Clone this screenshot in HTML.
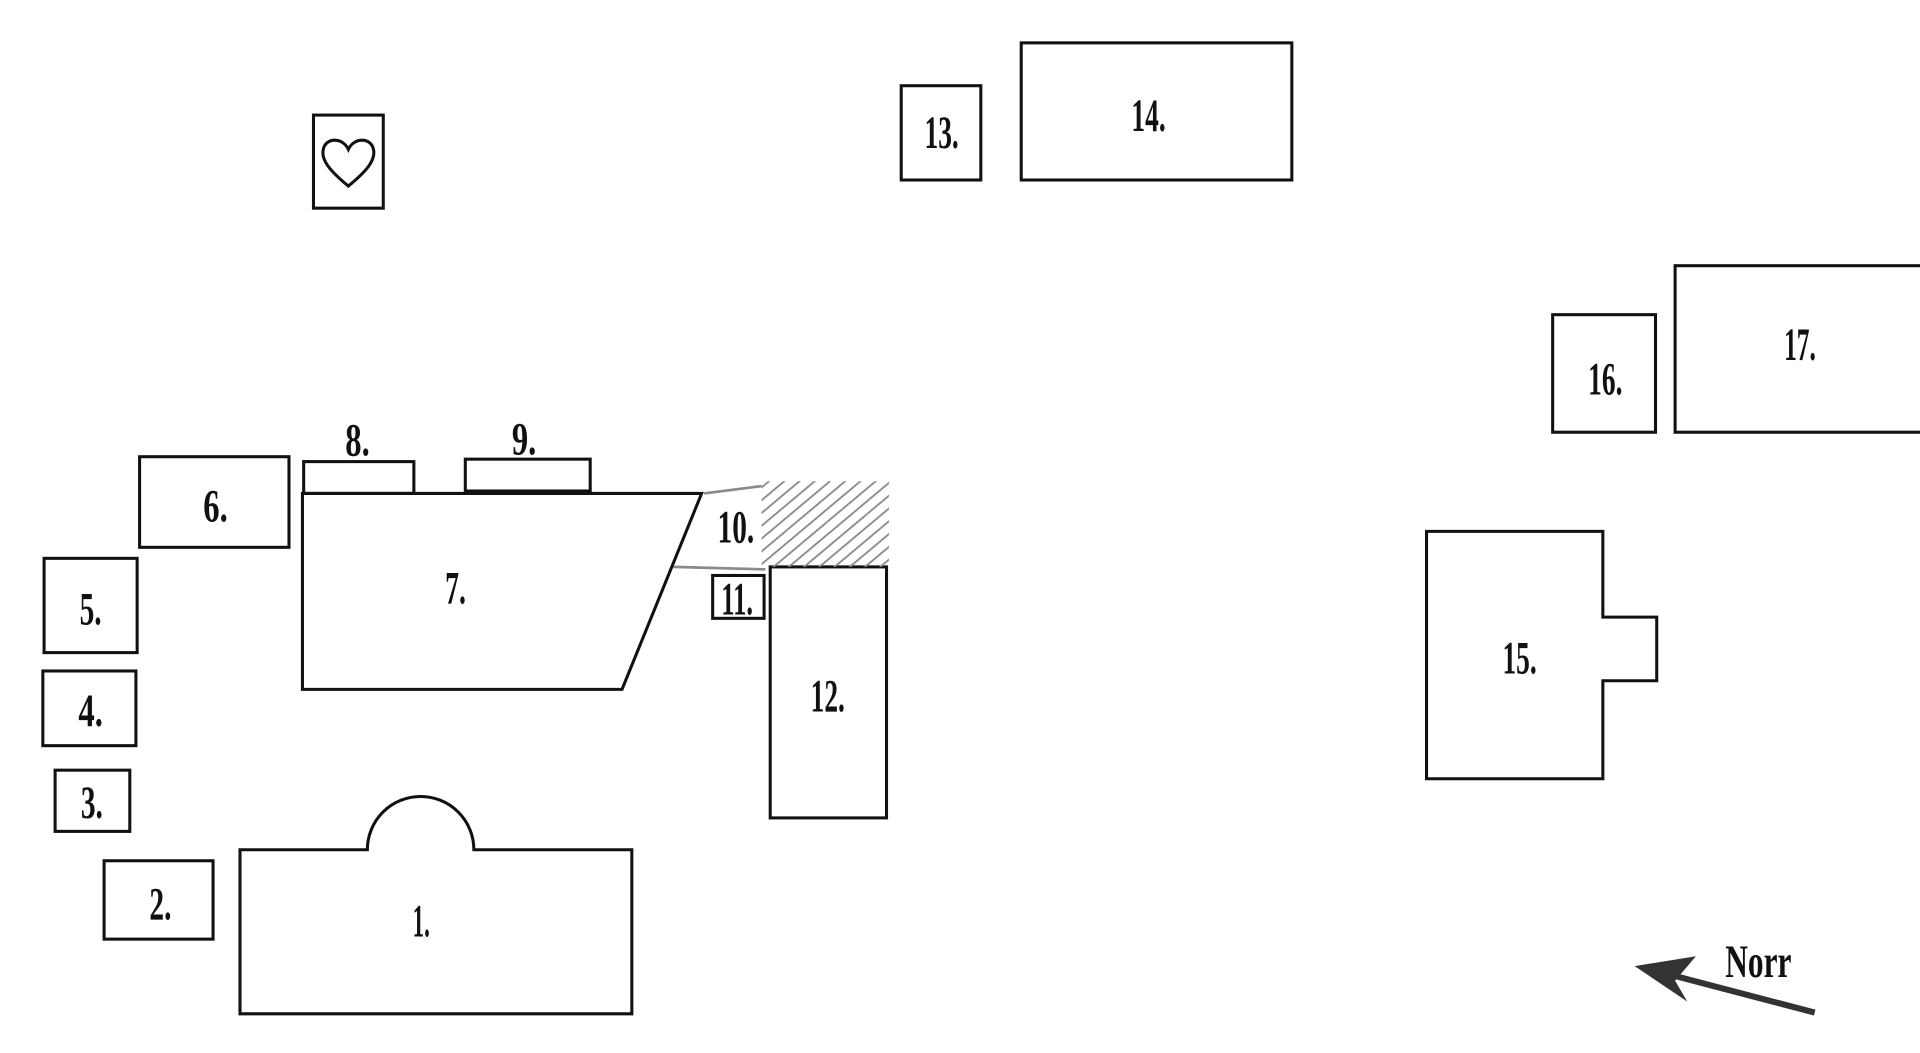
<!DOCTYPE html>
<html><head><meta charset="utf-8"><style>
html,body{margin:0;padding:0;background:#fff;}
svg{display:block;}
text{font-family:"Liberation Serif",serif;font-size:38px;font-weight:bold;text-anchor:middle;fill:#111;}
</style></head><body>
<svg width="1920" height="1053" viewBox="0 0 1568 860" preserveAspectRatio="none" xmlns="http://www.w3.org/2000/svg">
<defs>
<pattern id="h" width="8" height="8" patternUnits="userSpaceOnUse" patternTransform="rotate(50)">
<line x1="0" y1="0" x2="0" y2="8" stroke="#8a8a8a" stroke-width="3"/>
</pattern>
</defs>
<g fill="none" stroke="#111" stroke-width="2.5">
<rect x="256" y="94" width="57" height="76"/>
<path d="M284.5 152 C270 140 262 131 264 122 C266 112 280 112 284.5 122 C289 112 303 112 305 122 C307 131 299 140 284.5 152 Z"/>
<rect x="736" y="70" width="65" height="77"/>
<rect x="834" y="35" width="221" height="112"/>
<rect x="1268" y="257" width="84" height="96"/>
<rect x="1368" y="217" width="210" height="136"/>
<rect x="114" y="373" width="122" height="74"/>
<rect x="248" y="377" width="90" height="26"/>
<rect x="380" y="375" width="102" height="26"/>
<polygon points="247,403 573,403 508,563 247,563"/>
<rect x="582" y="470" width="42" height="35"/>
<rect x="629" y="463" width="95" height="205"/>
<rect x="36" y="456" width="76" height="77"/>
<rect x="35" y="548" width="76" height="61"/>
<rect x="45" y="629" width="61" height="50"/>
<rect x="85" y="703" width="89" height="64"/>
<path d="M196 694 H300 A43.5 43.5 0 0 1 387 694 H516 V828 H196 Z"/>
<path d="M1309 504 V434 H1165 V636 H1309 V556 H1353 V504 Z"/>
</g>
<g stroke="#8a8a8a" stroke-width="2.2" fill="none">
<line x1="575" y1="403" x2="622" y2="397"/>
<line x1="550" y1="463" x2="625" y2="465"/>
</g>
<rect x="622" y="393" width="104" height="70" fill="url(#h)"/>
<line x1="1482" y1="827" x2="1360" y2="795" stroke="#333" stroke-width="5"/>
<polygon points="1335,789 1385,781 1368,801 1378,818" fill="#333"/>
<g>
<text x="176" y="426" textLength="20" lengthAdjust="spacingAndGlyphs">6.</text>
<text x="292" y="372" textLength="20" lengthAdjust="spacingAndGlyphs">8.</text>
<text x="428" y="371" textLength="20" lengthAdjust="spacingAndGlyphs">9.</text>
<text x="372" y="493" textLength="17" lengthAdjust="spacingAndGlyphs">7.</text>
<text x="601" y="443" textLength="30" lengthAdjust="spacingAndGlyphs">10.</text>
<text x="602" y="502" textLength="26" lengthAdjust="spacingAndGlyphs">11.</text>
<text x="676" y="581" textLength="28" lengthAdjust="spacingAndGlyphs">12.</text>
<text x="74" y="510" textLength="18" lengthAdjust="spacingAndGlyphs">5.</text>
<text x="74" y="593" textLength="20" lengthAdjust="spacingAndGlyphs">4.</text>
<text x="75" y="668" textLength="18" lengthAdjust="spacingAndGlyphs">3.</text>
<text x="131" y="751" textLength="18" lengthAdjust="spacingAndGlyphs">2.</text>
<text x="344" y="765" textLength="14" lengthAdjust="spacingAndGlyphs">1.</text>
<text x="769" y="121" textLength="28" lengthAdjust="spacingAndGlyphs">13.</text>
<text x="938" y="107" textLength="28" lengthAdjust="spacingAndGlyphs">14.</text>
<text x="1311" y="322" textLength="28" lengthAdjust="spacingAndGlyphs">16.</text>
<text x="1470" y="294" textLength="26" lengthAdjust="spacingAndGlyphs">17.</text>
<text x="1241" y="550" textLength="28" lengthAdjust="spacingAndGlyphs">15.</text>
<text x="1436" y="798" textLength="54" lengthAdjust="spacingAndGlyphs">Norr</text>
</g>
</svg>
</body></html>
